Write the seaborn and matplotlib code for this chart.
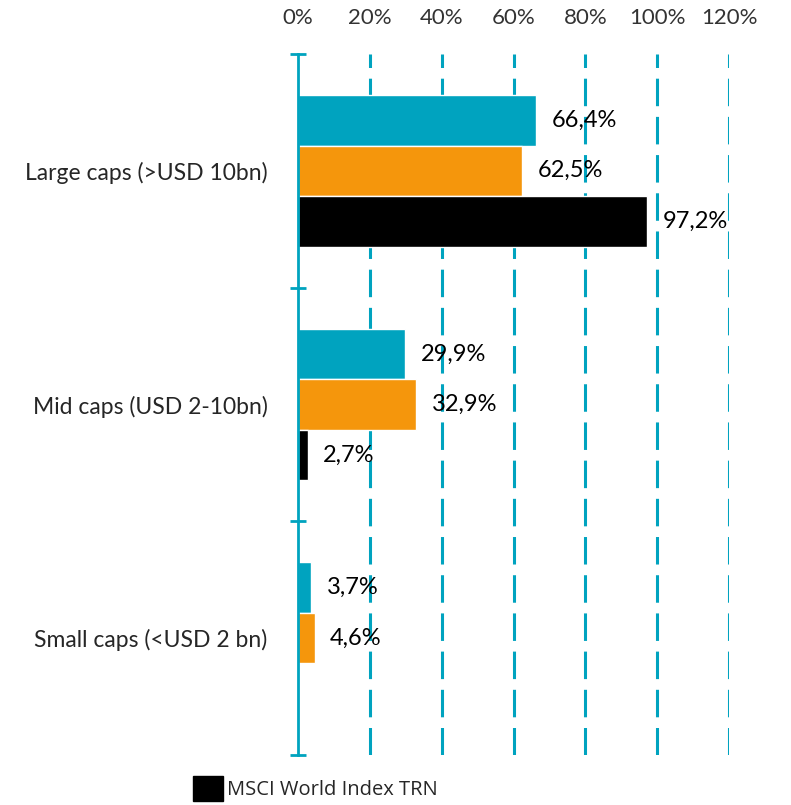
import numpy as np
import pandas as pd
import matplotlib
matplotlib.use('Agg')
import matplotlib.pyplot as plt
import matplotlib.patches as mpatches
import seaborn as sns

# data
categories = ['Large caps (>USD 10bn)', 'Mid caps (USD 2-10bn)', 'Small caps (<USD 2 bn)']
series_names = ['Series 1', 'Series 2', 'MSCI World Index TRN']
teal_vals = [66.4, 29.9, 3.7]
orange_vals = [62.5, 32.9, 4.6]
black_vals = [97.2, 2.7, np.nan]
x_ticks = [0, 20, 40, 60, 80, 100, 120]

TEAL = '#00A3BF'
ORANGE = '#F5960C'
BLACK = '#000000'

rows = []
for name, vals in zip(series_names, [teal_vals, orange_vals, black_vals]):
    for cat, v in zip(categories, vals):
        if not np.isnan(v):
            rows.append({'category': cat, 'series': name, 'value': v})
df = pd.DataFrame(rows)

sns.set_style('white')
plt.rcParams['font.family'] = ['Lato', 'DejaVu Sans']

fig = plt.figure(figsize=(7.91, 8.05), dpi=100)
ax = fig.add_axes([298 / 791, 50 / 805, 431 / 791, 701 / 805])

sns.barplot(data=df, x='value', y='category', hue='series', orient='h',
            order=categories, hue_order=series_names,
            palette=[TEAL, ORANGE, BLACK], width=0.65, saturation=1,
            legend=False, ax=ax)

# value labels
for c in ax.containers:
    labels = [f"{v:.1f}%".replace('.', ',') for v in c.datavalues]
    ax.bar_label(c, labels=labels, padding=11, fontsize=17, color='black')

ax.set_xlim(0, 120)
ax.set_ylim(2.5, -0.5)
ax.set_xticks(x_ticks)
ax.set_xticklabels([f"{t}%" for t in x_ticks], fontsize=16, color='#333333')
ax.xaxis.tick_top()
ax.tick_params(axis='x', length=0, pad=19)
ax.set_xlabel('')
ax.set_ylabel('')

# dashed gridlines
ax.grid(False)
for t in x_ticks[1:]:
    ax.axvline(t, color=TEAL, linewidth=2.2, linestyle=(0, (9, 3.5)), zorder=0)

# y axis: category labels and boundary ticks
ax.tick_params(axis='y', which='major', length=0, pad=22, labelsize=16.5)
ax.set_yticks([-0.5, 0.5, 1.5, 2.5], minor=True)
ax.tick_params(axis='y', which='minor', left=True, direction='inout', length=12,
               width=2, color=TEAL)

for s in ['top', 'right', 'bottom']:
    ax.spines[s].set_visible(False)
ax.spines['left'].set_color(TEAL)
ax.spines['left'].set_linewidth(2)

# legend (only index entry visible)
handle = mpatches.Patch(color=BLACK, label='MSCI World Index TRN')
fig.legend(handles=[handle], loc='upper left',
           bbox_to_anchor=(183 / 791, 1 - 766 / 805), frameon=False,
           handlelength=1.5, handleheight=1.5,
           handletextpad=0.2, borderpad=0, prop={'family': 'Open Sans', 'size': 14.5})

fig.savefig('out.png', dpi=100)
